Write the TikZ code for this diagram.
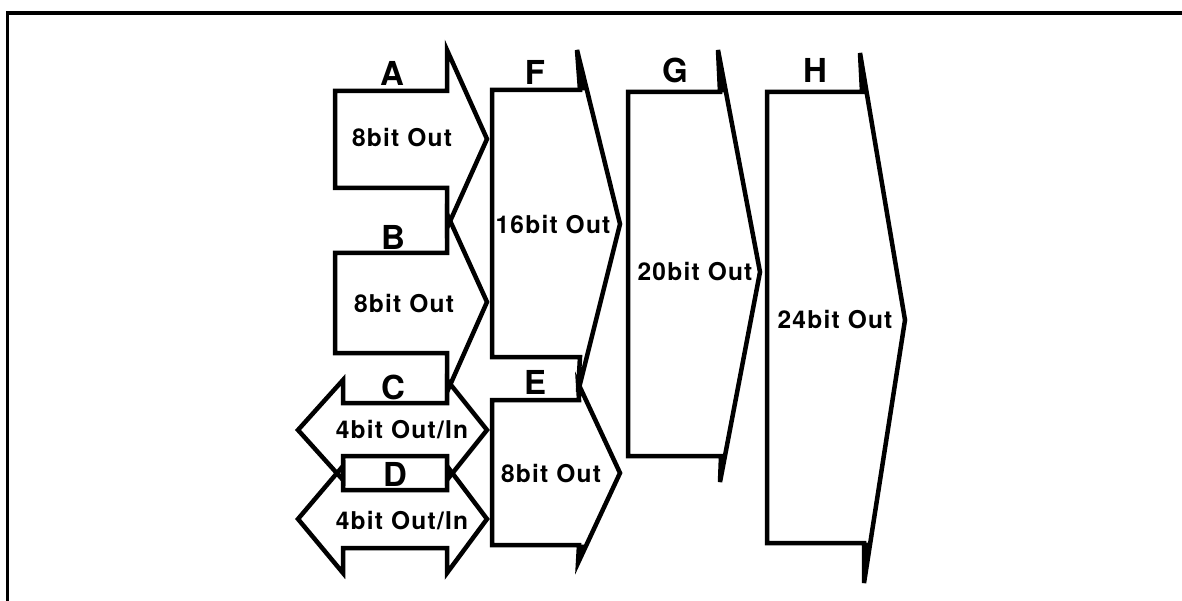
\documentclass[tikz,border=0pt]{standalone}
\usepackage{fontspec}
\newfontfamily\hv{TeX Gyre Heros}
\newfontfamily\hvs[LetterSpace=5]{TeX Gyre Heros}
\begin{document}
\begin{tikzpicture}[x=1pt,y=-1pt,
  shp/.style={draw=black,line width=4.5pt,line join=miter,miter limit=6},
  wedge/.style={fill=black,draw=black,line width=1pt},
  inner/.style={font=\hvs\bfseries\fontsize{24.5}{28}\selectfont,inner sep=0pt},
  lbl/.style={font=\hv\bfseries\fontsize{33}{36}\selectfont,inner sep=0pt}]
\useasboundingbox (0,0) rectangle (1182,601);
% frame
\draw[line width=3.5pt] (7.5,601) -- (7.5,13) -- (1182,13);
% A
\draw[shp] (335,91) -- (447,91) -- (447,50) -- (487,139) -- (447,228) -- (447,188) -- (335,188) -- cycle;
% B
\draw[shp] (335,253) -- (447,253) -- (447,214) -- (487,302) -- (447,392) -- (447,353) -- (335,353) -- cycle;
% C
\draw[shp] (298,430) -- (343,380) -- (343,403) -- (447,403) -- (447,380) -- (487,430) -- (447,480) -- (447,456) -- (343,456) -- (343,480) -- cycle;
% D
\draw[shp] (298,519) -- (343,466) -- (343,490) -- (447,490) -- (447,466) -- (487,519) -- (447,573) -- (447,548) -- (343,548) -- (343,573) -- cycle;
% F
\draw[shp] (492,90) -- (580,90) -- (577,50) -- (620,224) -- (578,392) -- (580,357) -- (492,357) -- cycle;
\fill[wedge] (577,50) -- (580,90) -- (587,90) -- cycle;
% E
\draw[shp] (492,400) -- (579,400) -- (578,383) -- (620,473) -- (578,563) -- (579,545) -- (492,545) -- cycle;
\fill[wedge] (579,545) -- (586,545) -- (578,563) -- cycle;
% G
\draw[shp] (628,92) -- (720,92) -- (718,50) -- (760,272) -- (720,482) -- (721,456) -- (628,456) -- cycle;
\fill[wedge] (718,50) -- (720,92) -- (726,92) -- cycle;
\fill[wedge] (721,456) -- (725,456) -- (720,482) -- cycle;
% H
\draw[shp] (767,92) -- (862,92) -- (860,53) -- (905,320) -- (864,583) -- (864,543) -- (767,543) -- cycle;
\fill[wedge] (860,53) -- (862,92) -- (867,92) -- cycle;
\fill[wedge] (864,543) -- (870,543) -- (864,583) -- cycle;
% inner texts
\node[inner] (ta) at (402,138) {8bit Out};
\node[inner] (tb) at (404,304) {8bit Out};
\node[inner] (tc) at (402,430) {4bit Out/In};
\node[inner] (td) at (402,521) {4bit Out/In};
\node[inner] (tf) at (553,225) {16bit Out};
\node[inner] (te) at (551,474) {8bit Out};
\node[inner] (tg) at (695,272) {20bit Out};
\node[inner] (th) at (835,320) {24bit Out};
% labels
\node[lbl] (la) at (392,73) {A};
\node[lbl] (lb) at (393,237) {B};
\node[lbl] (lc) at (393,387) {C};
\node[lbl] (ld) at (395,474) {D};
\node[lbl] (le) at (535,382) {E};
\node[lbl] (lf) at (535,72) {F};
\node[lbl] (lg) at (675,70) {G};
\node[lbl] (lh) at (815,70) {H};
\end{tikzpicture}
\end{document}
